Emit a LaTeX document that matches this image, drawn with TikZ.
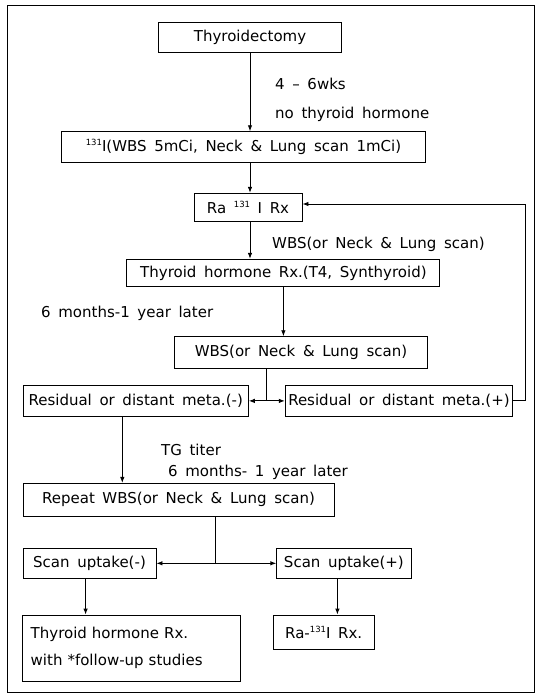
\documentclass[tikz,border=0pt]{standalone}
\usepackage{fontspec}
\setmainfont{DejaVu Sans}[WordSpace=1.6]
\usetikzlibrary{arrows.meta}
\newcommand\supnum[1]{\raisebox{0.42em}{\fontsize{8.5}{9}\selectfont #1}}
\begin{document}
\begin{tikzpicture}[x=1pt,y=-1pt,
  font=\fontsize{15}{18}\selectfont,
  box/.style={draw, line width=0.9pt, inner sep=0pt, align=center},
  arr/.style={line width=0.9pt, -{Latex[length=6pt,width=4.5pt]}},
  ln/.style={line width=0.9pt},
  lbl/.style={anchor=west, inner sep=0pt}]
\useasboundingbox (0,0) rectangle (537,693);
\draw[line width=1pt] (7,6) rectangle (534,692);

\node[box, minimum width=183pt, minimum height=30pt] (thy) at (250,37) {Thyroidectomy};
\node[box, minimum width=364pt, minimum height=31pt] (iod) at (243.5,147.2) {\supnum{131}I(WBS 5mCi, Neck \& Lung scan 1mCi)};
\node[box, minimum width=108pt, minimum height=28.4pt] (ra) at (248,207.5) {Ra \supnum{131} I Rx};
\node[box, minimum width=313pt, minimum height=27.4pt] (thr) at (283.4,273) {Thyroid hormone Rx.(T4, Synthyroid)};
\node[box, minimum width=252.7pt, minimum height=31.6pt] (wbs) at (301,352.5) {WBS(or Neck \& Lung scan)};
\node[box, minimum width=225.3pt, minimum height=30.3pt] (resm) at (135.7,400.9) {Residual or distant meta.(-)};
\node[box, minimum width=227.4pt, minimum height=30.3pt] (resp) at (399,400.9) {Residual or distant meta.(+)};
\node[box, minimum width=311pt, minimum height=32.7pt] (rep) at (178.5,499.7) {Repeat WBS(or Neck \& Lung scan)};
\node[box, minimum width=133pt, minimum height=30pt] (scm) at (89.5,563.3) {Scan uptake(-)};
\node[box, minimum width=134.3pt, minimum height=30pt] (scp) at (343.9,563.3) {Scan uptake(+)};
\node[box, font=\fontsize{15}{27}\selectfont, text width=202pt, inner xsep=8pt, align=left, minimum height=66pt] (fin) at (131.7,648) {Thyroid hormone Rx.\\with *follow-up studies};
\node[box, minimum width=100.7pt, minimum height=34.3pt] (raf) at (323.7,632.2) {Ra-\supnum{131}I Rx.};

\node[lbl] (l1) at (275,84) {4 -- 6wks};
\node[lbl] (l2) at (275,114) {no thyroid hormone};
\node[lbl] (l3) at (272,244) {WBS(or Neck \& Lung scan)};
\node[lbl] (l4) at (41,313) {6 months-1 year later};
\node[lbl] (l5) at (161,450) {TG titer};
\node[lbl] (l6) at (168,472) {6 months- 1 year later};

\draw[arr] (thy.south) -- (thy.south |- iod.north);
\draw[arr] (iod.south -| thy.south) -- (ra.north -| thy.south);
\draw[arr] (ra.south -| thy.south) -- (thr.north -| thy.south);
\draw[arr] (thr.south) -- (thr.south |- wbs.north);

\coordinate (s1) at (266.5,400.9);
\draw[ln] (wbs.south -| s1) -- (s1);
\draw[arr] (s1) -- (resm.east);
\draw[arr] (s1) -- (resp.west);

\coordinate (fb) at (525.5,204);
\draw[arr] (resp.east) -| (fb) -- (fb -| ra.east);

\coordinate (c3) at (122.3,0);
\draw[arr] (resm.south -| c3) -- (rep.north -| c3);

\coordinate (s2) at (215,563.3);
\draw[ln] (rep.south -| s2) -- (s2);
\draw[arr] (s2) -- (scm.east);
\draw[arr] (s2) -- (scp.west);

\coordinate (c4) at (85.6,0);
\draw[arr] (scm.south -| c4) -- (fin.north -| c4);
\coordinate (c5) at (337.4,0);
\draw[arr] (scp.south -| c5) -- (raf.north -| c5);
\end{tikzpicture}
\end{document}
